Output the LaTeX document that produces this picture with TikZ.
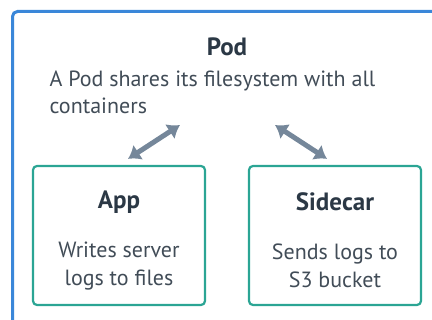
\documentclass[tikz,border=0pt]{standalone}
\usepackage{fontspec}
\setmainfont{PT Sans}
\usetikzlibrary{arrows.meta,positioning}
\definecolor{podblue}{HTML}{3A87D9}
\definecolor{boxteal}{HTML}{2BA594}
\definecolor{arrgray}{HTML}{75879A}
\definecolor{ink}{HTML}{2B3845}
\definecolor{inklight}{HTML}{414C57}
\begin{document}
\begin{tikzpicture}[x=1pt,y=1pt]
\tikzset{ctr/.style={draw=boxteal,line width=2.2pt,
                     minimum width=172pt,
                     minimum height=139pt,
                     rounded corners=4pt},
         ttl/.style={font=\fontsize{25}{28}\selectfont\bfseries,text=ink},
         dsc/.style={font=\fontsize{22}{28}\selectfont,text=inklight,align=center},
         link/.style={arrgray,line width=5pt,
                      {Latex[length=12pt,width=18pt]}-{Latex[length=12pt,width=18pt]}}
}
\useasboundingbox (0,0) rectangle (432,320);
\clip (0,0) rectangle (432,320);
% pod frame
\draw[podblue,line width=3pt,rounded corners=5pt] (12.5,-20) |- (460,308.5);
\node[font=\fontsize{25}{28}\selectfont\bfseries,text=ink] (pod) at (227,273) {Pod};
\node[font=\fontsize{22}{27}\selectfont,text=inklight,align=left,anchor=north west]
      (podtxt) at (46,253) {A Pod shares its filesystem with all\\containers};
% containers
\node[ctr] (app)  at (119,84.5) {};
\node[ctr] (side) at (335,84.5) {};
\node[ttl] (appT)  at ([yshift=-37pt]app.north)  {App};
\node[ttl] (sideT) at ([yshift=-37pt]side.north) {Sidecar};
\node[dsc] (appD)  at ([yshift=-101pt]app.north)  {Writes server\\logs to files};
\node[dsc] (sideD) at ([yshift=-101pt]side.north) {Sends logs to\\S3 bucket};
% shared filesystem
\coordinate (podL) at (180,195);
\coordinate (podR) at (275,195);
\draw[link] ([shift={(9pt,6pt)}]app.north) -- (podL);
\draw[link] ([shift={(-8pt,6pt)}]side.north) -- (podR);
\end{tikzpicture}
\end{document}
